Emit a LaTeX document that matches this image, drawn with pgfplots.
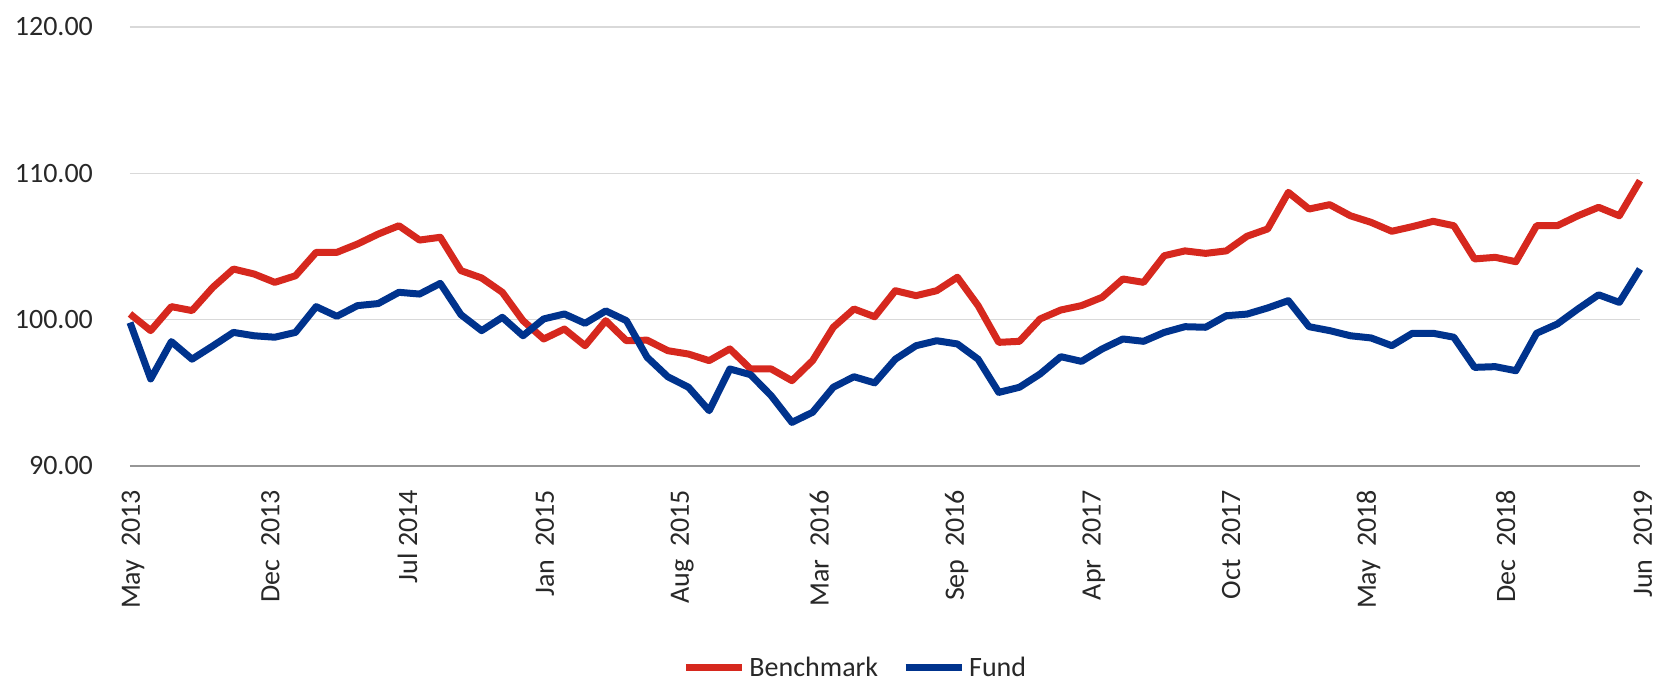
\documentclass[border=0pt]{standalone}
\usepackage{fontspec}
\setmainfont{Carlito}
\usepackage{pgfplots}
\usepackage{pgfplotstable}
\pgfplotsset{compat=1.18}
\definecolor{benchred}{RGB}{214,40,30}
\definecolor{fundblue}{RGB}{0,51,141}
\definecolor{gridgray}{RGB}{217,217,217}
\definecolor{axisgray}{RGB}{150,150,150}
\definecolor{labelgray}{RGB}{40,40,40}

% month index (0 = May 2013) and index value
\pgfplotstableread{
m v
0 100.39
1 99.25
2 100.89
3 100.62
4 102.20
5 103.46
6 103.12
7 102.55
8 103.00
9 104.60
10 104.60
11 105.17
12 105.85
13 106.42
14 105.44
15 105.63
16 103.35
17 102.85
18 101.87
19 99.93
20 98.68
21 99.36
22 98.22
23 99.93
24 98.56
25 98.60
26 97.88
27 97.65
28 97.20
29 98.00
30 96.63
31 96.63
32 95.83
33 97.20
34 99.48
35 100.73
36 100.20
37 101.98
38 101.64
39 101.98
40 102.90
41 100.96
42 98.45
43 98.52
44 100.05
45 100.66
46 100.96
47 101.53
48 102.78
49 102.55
50 104.37
51 104.70
52 104.53
53 104.70
54 105.70
55 106.20
56 108.70
57 107.56
58 107.86
59 107.10
60 106.65
61 106.04
62 106.36
63 106.72
64 106.42
65 104.15
66 104.26
67 103.96
68 106.42
69 106.42
70 107.10
71 107.68
72 107.10
73 109.50
}\benchmark

\pgfplotstableread{
m v
0 99.80
1 95.95
2 98.50
3 97.30
4 98.20
5 99.13
6 98.90
7 98.80
8 99.13
9 100.89
10 100.23
11 100.96
12 101.10
13 101.87
14 101.75
15 102.48
16 100.34
17 99.25
18 100.16
19 98.90
20 100.05
21 100.39
22 99.75
23 100.60
24 99.93
25 97.43
26 96.10
27 95.38
28 93.78
29 96.63
30 96.24
31 94.80
32 92.98
33 93.67
34 95.38
35 96.10
36 95.68
37 97.30
38 98.22
39 98.56
40 98.34
41 97.30
42 95.03
43 95.38
44 96.29
45 97.47
46 97.15
47 98.00
48 98.68
49 98.52
50 99.13
51 99.52
52 99.48
53 100.27
54 100.38
55 100.80
56 101.30
57 99.52
58 99.25
59 98.90
60 98.75
61 98.22
62 99.07
63 99.07
64 98.80
65 96.74
66 96.79
67 96.51
68 99.07
69 99.70
70 100.73
71 101.70
72 101.18
73 103.46
}\fund

\begin{document}
\begin{tikzpicture}
\useasboundingbox (0,0) rectangle (828pt,340pt);
\begin{axis}[
    at={(65pt,107pt)}, anchor=south west,
    scale only axis,
    width=755pt, height=219.5pt,
    xmin=0, xmax=73,
    ymin=90, ymax=120,
    ytick={90,100,110,120},
    xtick={0,6.636,13.273,19.909,26.545,33.182,39.818,46.455,53.091,59.727,66.364,73},
    xticklabels={May\ \ 2013,Dec\ \ 2013,Jul\ 2014,Jan\ \ 2015,Aug\ \ 2015,Mar\ \ 2016,
                 Sep\ \ 2016,Apr\ \ 2017,Oct\ \ 2017,May\ \ 2018,Dec\ \ 2018,Jun\ \ 2019},
    axis x line*=bottom,
    axis y line*=left,
    x axis line style={axisgray, line width=0.8pt, -},
    y axis line style={draw=none},
    major tick length=0pt,
    ymajorgrids,
    grid style={gridgray, line width=0.6pt},
    /pgf/number format/assume math mode=true,
    yticklabel style={/pgf/number format/fixed, /pgf/number format/fixed zerofill,
                      /pgf/number format/precision=2, xshift=-15pt},
    tick label style={font=\fontsize{14}{16}\selectfont, text=labelgray},
    xticklabel style={yshift=-8.5pt, xshift=1.5pt, rotate=90, anchor=east},
    legend columns=2,
    legend style={at={(0.481,-0.46)}, anchor=center, draw=none, fill=none,
                  font=\fontsize{14}{16}\selectfont, text=labelgray,
                  /tikz/every even column/.append style={column sep=10pt}},
    legend image code/.code={\draw[#1, line width=3.5pt] (0pt,0pt) -- (28pt,0pt);},
    clip=false,
]
\addplot[benchred, line width=3.5pt, line join=round] table[x=m, y=v] {\benchmark};
\addlegendentry{Benchmark}
\addplot[fundblue, line width=3.5pt, line join=round] table[x=m, y=v] {\fund};
\addlegendentry{Fund}
\end{axis}
\end{tikzpicture}
\end{document}
